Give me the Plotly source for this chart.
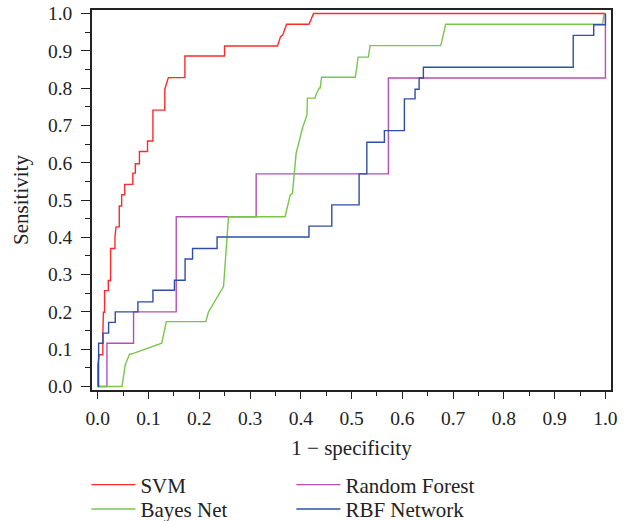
import plotly.graph_objects as go

# ---- data ----
svm_x = [0.0, 0.0, 0.003, 0.010, 0.010, 0.011, 0.0134, 0.0134, 0.0207, 0.0207, 0.0252, 0.0252,
         0.0338, 0.0338, 0.036, 0.0423, 0.0423, 0.047, 0.047, 0.053, 0.053, 0.069, 0.069, 0.074,
         0.074, 0.082, 0.082, 0.098, 0.098, 0.1086, 0.1086, 0.132, 0.132, 0.139, 0.1716, 0.1716,
         0.2497, 0.2497, 0.354, 0.36, 0.3645, 0.372, 0.416, 0.425, 1.0]
svm_y = [0.0, 0.058, 0.085, 0.085, 0.143, 0.199, 0.199, 0.257, 0.257, 0.284, 0.284, 0.370,
         0.370, 0.400, 0.428, 0.428, 0.484, 0.484, 0.514, 0.514, 0.542, 0.542, 0.572, 0.572,
         0.597, 0.597, 0.630, 0.630, 0.658, 0.658, 0.741, 0.741, 0.797, 0.828, 0.828, 0.886,
         0.886, 0.913, 0.913, 0.938, 0.943, 0.971, 0.971, 1.0, 1.0]

bayes_x = [0.0, 0.0476, 0.054, 0.0627, 0.066, 0.126, 0.135, 0.213, 0.218, 0.225, 0.23, 0.2477,
           0.2575, 0.369, 0.379, 0.3835, 0.3907, 0.400, 0.403, 0.412, 0.413, 0.428, 0.4295,
           0.436, 0.438, 0.441, 0.507, 0.509, 0.5114, 0.5128, 0.533, 0.5344, 0.5364, 0.6756,
           0.6854, 0.9945, 0.997, 1.0]
bayes_y = [0.0, 0.0, 0.058, 0.087, 0.087, 0.116, 0.174, 0.174, 0.20, 0.216, 0.23, 0.268,
           0.455, 0.455, 0.513, 0.518, 0.625, 0.679, 0.692, 0.728, 0.773, 0.773, 0.781,
           0.800, 0.800, 0.829, 0.829, 0.844, 0.867, 0.883, 0.883, 0.902, 0.914, 0.914,
           0.971, 0.971, 0.997, 1.0]

rf_x = [0.0, 0.018, 0.018, 0.0705, 0.0705, 0.1545, 0.1545, 0.312, 0.312, 0.5725, 0.5725, 1.0, 1.0]
rf_y = [0.0, 0.0, 0.116, 0.116, 0.200, 0.200, 0.455, 0.455, 0.570, 0.570, 0.827, 0.827, 1.0]

rbf_x = [0.0, 0.0016, 0.0016, 0.0102, 0.0102, 0.0213, 0.0213, 0.0344, 0.0344, 0.079, 0.079,
         0.1086, 0.1086, 0.151, 0.151, 0.172, 0.172, 0.1867, 0.1867, 0.235, 0.235, 0.416,
         0.416, 0.461, 0.461, 0.5148, 0.5148, 0.530, 0.530, 0.5646, 0.5646, 0.604, 0.604,
         0.625, 0.625, 0.633, 0.633, 0.6414, 0.6414, 0.9366, 0.9366, 0.977, 0.977, 1.0, 1.0]
rbf_y = [0.0, 0.0, 0.116, 0.116, 0.143, 0.143, 0.172, 0.172, 0.200, 0.200, 0.227, 0.227,
         0.258, 0.258, 0.285, 0.285, 0.342, 0.342, 0.370, 0.370, 0.401, 0.401, 0.430,
         0.430, 0.487, 0.487, 0.570, 0.570, 0.655, 0.655, 0.686, 0.686, 0.771, 0.771,
         0.797, 0.797, 0.827, 0.827, 0.856, 0.856, 0.9415, 0.9415, 0.970, 0.970, 1.0]

tick_vals = [0.0, 0.1, 0.2, 0.3, 0.4, 0.5, 0.6, 0.7, 0.8, 0.9, 1.0]
tick_text = ["0.0", "0.1", "0.2", "0.3", "0.4", "0.5", "0.6", "0.7", "0.8", "0.9", "1.0"]

FONT = "Liberation Serif"
INK = "#222222"
series = [
    ("SVM", svm_x, svm_y, "#ff2a2a", "legend"),
    ("Random Forest", rf_x, rf_y, "#b550b5", "legend"),
    ("Bayes Net", bayes_x, bayes_y, "#79c64a", "legend2"),
    ("RBF Network", rbf_x, rbf_y, "#2f4fa6", "legend2"),
]

fig = go.Figure()
for name, xs, ys, col, lg in series:
    fig.add_trace(go.Scatter(x=xs, y=ys, mode="lines", name=name, legend=lg,
                             line=dict(color=col, width=1.4)))

axis_common = dict(
    showline=True, linecolor=INK, linewidth=1.5, mirror=True,
    ticks="outside", tickcolor=INK, tickwidth=1.3,
    tickvals=tick_vals, ticktext=tick_text,
    showgrid=False, zeroline=False, automargin=False,
    ticklabeloverflow="allow",
    tickfont=dict(family=FONT, size=19.5, color=INK),
)

legend_common = dict(orientation="h", xanchor="left", yanchor="middle",
                     entrywidth=146, entrywidthmode="pixels", itemwidth=44,
                     font=dict(family=FONT, size=21, color=INK),
                     bgcolor="rgba(0,0,0,0)", borderwidth=0)

fig.update_layout(
    width=629, height=521,
    margin=dict(l=92, r=18, t=10, b=131, autoexpand=False),
    paper_bgcolor="white", plot_bgcolor="white",
    font=dict(family=FONT, size=19, color=INK),
    xaxis=dict(**axis_common, range=[-0.0114, 1.011], ticklen=7,
               ticklabelstandoff=3,
               minor=dict(ticks="outside", ticklen=4, dtick=0.05, tick0=0,
                          tickcolor=INK, tickwidth=1.3, showgrid=False),
               title=dict(text="1 − specificity", standoff=12,
                          font=dict(family=FONT, size=21, color=INK))),
    yaxis=dict(**axis_common, range=[-0.0094, 1.0094], ticklen=9,
               ticklabelstandoff=5,
               minor=dict(ticks="outside", ticklen=5, dtick=0.05, tick0=0,
                          tickcolor=INK, tickwidth=1.3, showgrid=False),
               title=dict(text="Sensitivity", standoff=14,
                          font=dict(family=FONT, size=21, color=INK))),
    legend=dict(**legend_common, x=-0.0108, y=-0.25),
    legend2=dict(**legend_common, x=-0.0108, y=-0.314),
    showlegend=True,
)

# remove the default page margin so the 629x521 figure fills the window exactly
fig.write_html("out.html",
               config={"displayModeBar": False},
               post_script="document.body.style.margin='0';document.body.style.overflow='hidden';")
